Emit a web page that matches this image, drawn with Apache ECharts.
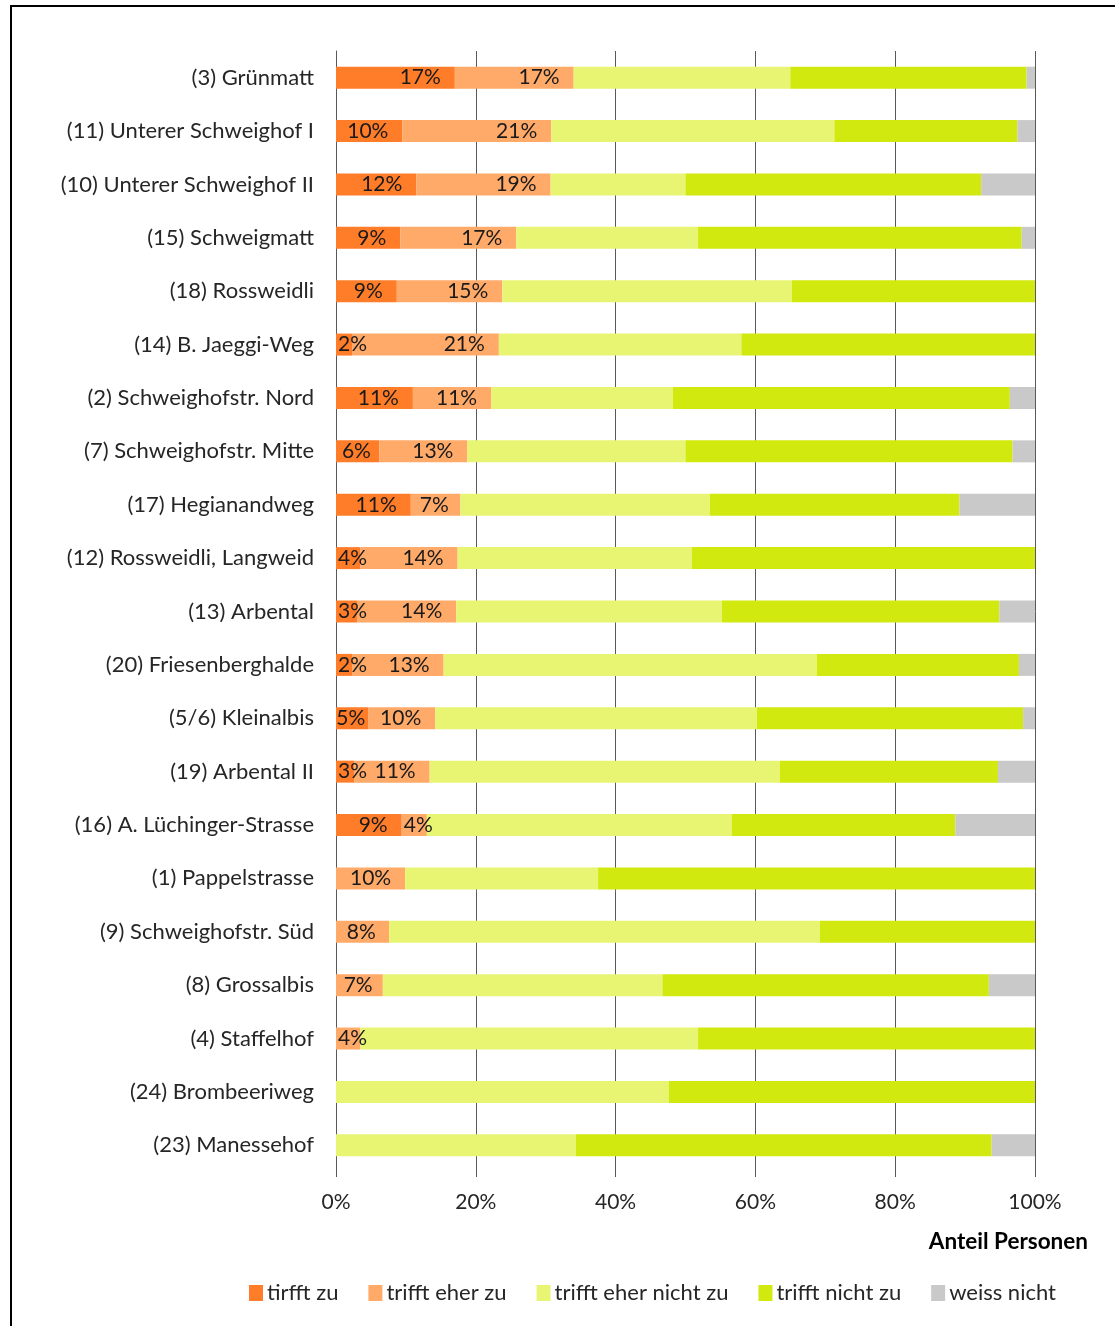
<!DOCTYPE html>
<html>
<head>
<meta charset="utf-8">
<script src="https://cdn.jsdelivr.net/npm/echarts@6/dist/echarts.min.js"></script>
<style>
html,body{margin:0;padding:0;background:#fff;}
#chart{width:1115px;height:1326px;}
</style>
</head>
<body>
<div id="chart"></div>
<script>
const categories = [
  "(3) Grünmatt",
  "(11) Unterer Schweighof I",
  "(10) Unterer Schweighof II",
  "(15) Schweigmatt",
  "(18) Rossweidli",
  "(14) B. Jaeggi-Weg",
  "(2) Schweighofstr. Nord",
  "(7) Schweighofstr. Mitte",
  "(17) Hegianandweg",
  "(12) Rossweidli, Langweid",
  "(13) Arbental",
  "(20) Friesenberghalde",
  "(5/6) Kleinalbis",
  "(19) Arbental II",
  "(16) A. Lüchinger-Strasse",
  "(1) Pappelstrasse",
  "(9) Schweighofstr. Süd",
  "(8) Grossalbis",
  "(4) Staffelhof",
  "(24) Brombeeriweg",
  "(23) Manessehof"
];
const seriesNames = ["tirfft zu", "trifft eher zu", "trifft eher nicht zu", "trifft nicht zu", "weiss nicht"];
const trifftZu          = [17.0, 9.5, 11.5, 9.2, 8.7, 2.3, 11.0, 6.2, 10.7, 3.5, 3.0, 2.3, 4.6, 2.6, 9.4, 0, 0, 0, 0, 0, 0];
const trifftEherZu      = [17.0, 21.3, 19.2, 16.6, 15.1, 21.0, 11.2, 12.6, 7.1, 13.9, 14.2, 13.1, 9.6, 10.8, 3.6, 9.9, 7.6, 6.7, 3.5, 0, 0];
const trifftEherNichtZu = [31.0, 40.5, 19.3, 26.0, 41.4, 34.7, 26.0, 31.2, 35.7, 33.5, 38.0, 53.4, 46.0, 50.1, 43.6, 27.6, 61.6, 40.0, 48.3, 47.6, 34.3];
const trifftNichtZu     = [33.8, 26.2, 42.3, 46.3, 34.8, 42.0, 48.2, 46.8, 35.7, 49.1, 39.7, 28.9, 38.1, 31.2, 32.0, 62.5, 30.8, 46.7, 48.2, 52.4, 59.5];
const weissNicht        = [1.2, 2.5, 7.7, 1.9, 0, 0, 3.6, 3.2, 10.8, 0, 5.1, 2.3, 1.7, 5.3, 11.4, 0, 0, 6.6, 0, 0, 6.2];
const xTicks = [0, 20, 40, 60, 80, 100];

const colors = ["#FF7C28", "#FFAA69", "#E7F573", "#D1E90E", "#C9C9C9"];
const FONT = "Lato";
const PX_PER_PCT = 6.99;

function labelFor(v) {
  if (!v) return { show: false };
  const tw = String(Math.round(v)).length * 10.5 + 16;
  const w = v * PX_PER_PCT;
  if (w >= tw + 28) return { show: true, position: 'insideRight', distance: 14 };
  if (w >= tw + 2) return { show: true, position: 'insideRight', distance: Math.max(2, (w - tw) / 2) };
  return { show: true, position: 'insideLeft', distance: 2 };
}

const allData = [trifftZu, trifftEherZu, trifftEherNichtZu, trifftNichtZu, weissNicht];
const series = allData.map((arr, i) => ({
  name: seriesNames[i],
  type: 'bar',
  stack: 'total',
  barWidth: 22,
  itemStyle: { color: colors[i] },
  label: {
    show: i < 2,
    color: '#1a1a1a',
    fontFamily: FONT,
    fontSize: 21,
    formatter: p => Math.round(p.value) + '%'
  },
  data: arr.map(v => i < 2 ? { value: v, label: labelFor(v) } : v)
}));

const chart = echarts.init(document.getElementById('chart'));
chart.setOption({
  animation: false,
  color: colors,
  grid: { left: 336, right: 80, top: 51, bottom: 154, containLabel: false },
  xAxis: {
    type: 'value',
    min: 0, max: 100, interval: 20,
    axisLine: { show: false },
    axisTick: { show: true, length: 5, lineStyle: { color: '#595959' } },
    splitLine: { show: true, lineStyle: { color: '#595959', width: 1 } },
    axisLabel: {
      margin: 20,
      color: '#262626',
      fontFamily: FONT,
      fontSize: 21,
      formatter: v => xTicks.includes(v) ? v + '%' : ''
    }
  },
  yAxis: {
    type: 'category',
    inverse: true,
    data: categories,
    axisLine: { show: true, lineStyle: { color: '#595959', width: 1 } },
    axisTick: { show: false },
    axisLabel: { margin: 22, color: '#262626', fontFamily: FONT, fontSize: 22 }
  },
  legend: {
    data: seriesNames,
    left: 244,
    top: 1277,
    icon: 'rect',
    itemWidth: 14,
    itemHeight: 16,
    itemGap: 30,
    textStyle: { color: '#262626', fontFamily: FONT, fontSize: 22, padding: [0, 0, 0, -1] }
  },
  graphic: [
    { type: 'rect', shape: { x: 11, y: 6, width: 1300, height: 1500 }, style: { fill: null, stroke: '#000', lineWidth: 2 }, silent: true },
    { type: 'text', right: 27, top: 1230, style: { text: 'Anteil Personen', fontFamily: FONT, fontWeight: 'bold', fontSize: 22.5, fill: '#000' } }
  ],
  series: series
});
</script>
</body>
</html>
